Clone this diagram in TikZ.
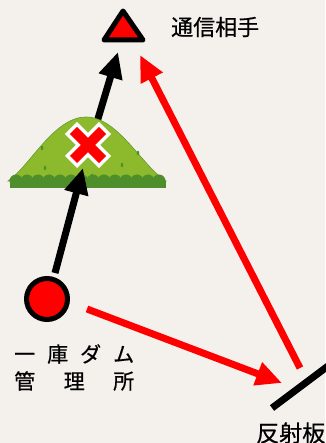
\documentclass[tikz,border=0pt]{standalone}
\usepackage{fontspec}
\usetikzlibrary{arrows.meta}
\newfontfamily\jpfont{Noto Sans CJK JP}[FakeBold=0.6]
\definecolor{paper}{HTML}{F4F0EB}
\definecolor{hillgreen}{HTML}{8DBA2C}
\definecolor{hilldark}{HTML}{4F8F2B}
\tikzset{
  x=1pt, y=-1pt,
  link/.style={line width=7pt, -{Triangle[length=26pt,width=23pt]}},
  blacklink/.style={link, draw=black},
  redlink/.style={link, draw=red},
  label/.style={font=\jpfont, inner sep=0pt, text=black},
}
\begin{document}
\begin{tikzpicture}
  % paper background and page size
  \fill[paper] (0,0) rectangle (325,443);
  \useasboundingbox (0,0) rectangle (325,443);

  % anchor points of the links
  \coordinate (hilltop) at (97,122);
  \coordinate (peertip) at (118,52);
  \coordinate (peertip2) at (140,55);
  \coordinate (damtop) at (55,273);
  \coordinate (hillfoot) at (83,168);
  \coordinate (damright) at (87,309);
  \coordinate (refltip) at (282,383);
  \coordinate (reflbase) at (300,368);

  % blocked link: dam -> hill -> peer (upper part first, the hill covers its foot)
  \draw[blacklink] (hilltop) -- (peertip);

  % hill
  \fill[hillgreen, draw=hilldark!70!hillgreen, line width=0.6pt]
        (8,181) .. controls (30,166) and (54,117) .. (86,117)
        .. controls (118,117) and (142,166) .. (166,181) -- cycle;
  \fill[hilldark] (10,181) rectangle (166,188);
  \foreach \cx in {16,27,38,49,60,71,82,93,104,115,126,137,148,159}
    \fill[hilldark] (\cx,181) circle (6.5);
  \foreach \dx/\dy in {42/148,45/168,122/165,138/153,92/176}
    \fill[hilldark] (\dx,\dy) ellipse (1.3 and 2.2);

  % cross mark on the hill
  \draw[white, line width=17pt] (71,128) -- (105,162);
  \draw[white, line width=17pt] (105,128) -- (71,162);
  \draw[red, line width=10pt] (73.5,130.5) -- (102.5,159.5);
  \draw[red, line width=10pt] (102.5,130.5) -- (73.5,159.5);

  % lower part of the blocked link
  \draw[blacklink] (damtop) -- (hillfoot);

  % reflected path: dam -> reflector -> peer
  \draw[redlink] (damright) -- (refltip);
  \draw[redlink] (reflbase) -- (peertip2);

  % reflector plate
  \draw[black, line width=7pt] (272,408) -- (332,363);

  % communication peer
  \draw[fill=red, line width=5pt, line join=round] (123,11) -- (104,40) -- (143,40) -- cycle;
  \node[label, font=\jpfont\fontsize{22}{22}\selectfont, anchor=west] (peer) at (171,27) {通信相手};

  % dam office
  \node[circle, draw=black, fill=red, line width=5pt, minimum size=41pt, inner sep=0pt] (dam) at (47,299) {};
  \node[label, font=\jpfont\fontsize{21}{21}\selectfont, anchor=west] (dam1) at (14,354) {\makebox[120pt][s]{一\hfill 庫\hfill ダ\hfill ム}};
  \node[label, font=\jpfont\fontsize{21}{21}\selectfont, anchor=west] (dam2) at (14,381) {\makebox[120pt][s]{管\hfill 理\hfill 所}};

  % reflector label
  \node[label, font=\jpfont\fontsize{23}{23}\selectfont, anchor=west] (refl) at (256,433) {反射板};
\end{tikzpicture}
\end{document}
